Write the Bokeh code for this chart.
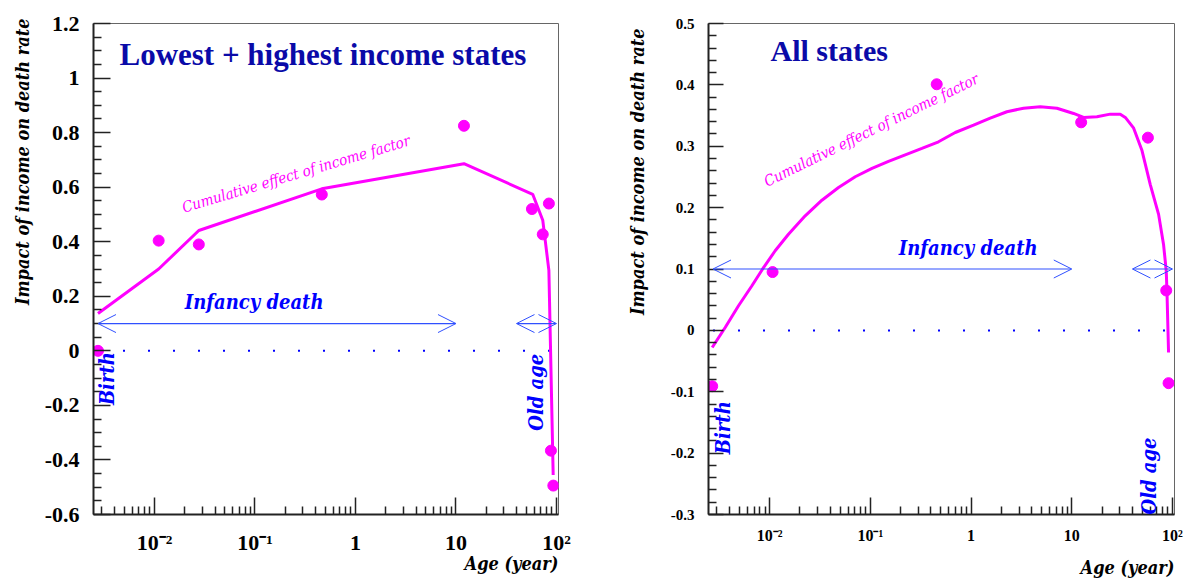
import math
from bokeh.plotting import figure
from bokeh.models import (Range1d, FixedTicker, CustomJSTickFormatter, Label,
                          Arrow, OpenHead, Title)
from bokeh.layouts import row
from bokeh.embed import file_html
from bokeh.resources import INLINE

FONT = "Liberation Serif"
ITALIC_FONT = "'DejaVu Serif Condensed', 'DejaVu Serif', serif"

# ---------------- data ----------------
birth_age = 1.0 / 365.0
x_lo, x_hi = 10 ** -2.607, 10 ** 2.02

# Left panel: lowest + highest income states
left_point_age = [birth_age, 0.011, 0.0276, 0.462, 12.0, 57.0, 73.0, 84.0, 88.0, 93.0]
left_point_val = [0.0, 0.404, 0.39, 0.573, 0.825, 0.52, 0.427, 0.54, -0.366, -0.494]
left_curve_age = [birth_age, 0.011, 0.0276, 0.462, 12.0, 58.0, 73.0, 84.0, 92.7]
left_curve_val = [0.137, 0.30, 0.441, 0.594, 0.686, 0.574, 0.479, 0.295, -0.455]

# Right panel: all states
right_point_age = [0.00269, 0.0107, 0.456, 12.4, 57.0, 86.7, 91.4]
right_point_val = [-0.091, 0.095, 0.401, 0.339, 0.314, 0.065, -0.086]
right_curve_age = [0.00269, 0.00362, 0.00491, 0.00667, 0.00849, 0.01135, 0.01538,
                   0.02254, 0.03304, 0.04831, 0.07079, 0.1038, 0.1514, 0.222,
                   0.3251, 0.4753, 0.6966, 1.059, 1.549, 2.27, 3.319, 4.864,
                   7.124, 10.42, 13.09, 17.78, 24.1, 30.29, 34.0, 41.0, 49.8,
                   60.1, 72.8, 81.5, 86.7, 88.1, 91.4]
right_curve_val = [-0.028, 0.0047, 0.0401, 0.0727, 0.0997, 0.1297, 0.1567,
                   0.1867, 0.2121, 0.2328, 0.2503, 0.2638, 0.2752, 0.2861,
                   0.2964, 0.3073, 0.3224, 0.3343, 0.3457, 0.3562, 0.362,
                   0.3643, 0.362, 0.3534, 0.3469, 0.348, 0.3523, 0.3523,
                   0.347, 0.330, 0.293, 0.238, 0.189, 0.140, 0.097, 0.065,
                   -0.036]

x_tick_values = [0.01, 0.1, 1, 10, 100]
x_tick_labels = ["10\u207b\u00b2", "10\u207b\u00b9", "1", "10", "10\u00b2"]
x_minor_ticks = [m * 10.0 ** e for e in range(-3, 3) for m in range(2, 10)
                 if x_lo <= m * 10.0 ** e <= x_hi]

left_y_ticks = [-0.6, -0.4, -0.2, 0.0, 0.2, 0.4, 0.6, 0.8, 1.0, 1.2]
right_y_ticks = [-0.3, -0.2, -0.1, 0.0, 0.1, 0.2, 0.3, 0.4, 0.5]

arrow_level = 0.1
infancy_span = [birth_age, 10.0]
old_age_span = [40.0, 100.0]
zero_line_age = [birth_age, 95.0]

titles = ["Lowest + highest income states", "All states"]
y_title = "Impact of income on death rate"
x_title = "Age (year)"
curve_note = "Cumulative effect of income factor"

MAGENTA = "#ff00ff"
BLUE = "#0000ff"
ARROW_BLUE = "#3050ff"
NAVY = "#0a0aa8"


def minor_list(ticks, n):
    out = []
    for a, b in zip(ticks[:-1], ticks[1:]):
        for k in range(1, n):
            out.append(round(a + (b - a) * k / n, 6))
    return out


def make_panel(cfg):
    p = figure(x_axis_type="log", output_backend="svg", toolbar_location=None,
               title=None,
               frame_width=cfg["fw"], frame_height=cfg["fh"],
               min_border_left=cfg["bl"], min_border_right=cfg["br"],
               min_border_top=cfg["bt"], min_border_bottom=cfg["bb"],
               x_range=Range1d(x_lo, x_hi), y_range=Range1d(*cfg["yr"]))
    p.grid.visible = False
    p.outline_line_color = "#666666"
    p.outline_line_width = 1
    p.background_fill_color = "white"
    p.border_fill_color = "white"

    xa = p.xaxis[0]
    xa.ticker = FixedTicker(ticks=x_tick_values, minor_ticks=x_minor_ticks)
    xa.major_label_overrides = {v: l for v, l in zip(x_tick_values, x_tick_labels)}
    ya = p.yaxis[0]
    ya.ticker = FixedTicker(ticks=cfg["yt"], minor_ticks=minor_list(cfg["yt"], cfg["ny"]))
    ya.formatter = CustomJSTickFormatter(code="return String(Number(tick.toFixed(3)));")
    for ax, fs, tin, so in ((xa, cfg["xfs"], cfg["xtin"], cfg["xso"]),
                            (ya, cfg["yfs"], cfg["ytin"], cfg["yso"])):
        ax.axis_line_color = "#222222"
        ax.axis_line_width = 2
        ax.major_tick_in = tin
        ax.major_tick_out = 0
        ax.minor_tick_in = 8
        ax.minor_tick_out = 0
        ax.major_tick_line_color = "#222222"
        ax.minor_tick_line_color = "#222222"
        ax.major_tick_line_width = 1.5
        ax.minor_tick_line_width = 1.5
        ax.major_label_text_font = FONT
        ax.major_label_text_font_style = "bold"
        ax.major_label_text_font_size = fs
        ax.major_label_text_color = "black"
        ax.major_label_standoff = so

    # zero line, arrows
    p.line(zero_line_age, [0, 0], line_color=BLUE, line_width=2, line_dash="2 23")
    for span in (infancy_span, old_age_span):
        p.add_layout(Arrow(start=OpenHead(size=18, line_color=ARROW_BLUE, line_width=1),
                           end=OpenHead(size=18, line_color=ARROW_BLUE, line_width=1),
                           x_start=span[0], y_start=arrow_level,
                           x_end=span[1], y_end=arrow_level,
                           line_color=ARROW_BLUE, line_width=1.2))

    p.line(cfg["cx"], cfg["cy"], line_color=MAGENTA, line_width=3)
    p.scatter(cfg["px"], cfg["py"], size=11, color=MAGENTA)

    def lab(text, x, y, size, style, color, font, align="left", angle=0.0):
        p.add_layout(Label(x=x, y=y, text=text,
                           text_font=font, text_font_size=size,
                           text_font_style=style, text_color=color,
                           text_align=align, text_baseline="middle",
                           angle=angle))

    lab(cfg["title"], cfg["tx"], cfg["ty"], cfg["tfs"], "bold", NAVY, FONT)
    lab(curve_note, cfg["nx"], cfg["ny_"], "15px", "italic", MAGENTA, ITALIC_FONT,
        angle=math.radians(cfg["nang"]))
    lab("Infancy death", cfg["ix"], cfg["iy"], "20px", "bold italic", BLUE,
        ITALIC_FONT, align="center")
    lab("Birth", cfg["bx"], cfg["by"], "20px", "bold italic", BLUE, ITALIC_FONT,
        angle=math.pi / 2)
    lab("Old age", cfg["ox"], cfg["oy"], "20px", "bold italic", BLUE, ITALIC_FONT,
        angle=math.pi / 2)

    p.add_layout(Title(text=y_title, align="right", text_font=ITALIC_FONT,
                       text_font_size="18px", text_font_style="bold italic",
                       text_color="black", standoff=cfg["yts"], offset=cfg["yto"]),
                 "left")
    p.add_layout(Title(text=x_title, align="right", text_font=ITALIC_FONT,
                       text_font_size="18px", text_font_style="bold italic",
                       text_color="black", standoff=cfg["xts"]),
                 "below")
    return p


left_cfg = dict(fw=465, fh=491, bl=93, br=42, bt=23, bb=68, yr=(-0.6, 1.2),
                yt=left_y_ticks, ny=4, xfs="22px", yfs="22px", xtin=17, ytin=17,
                xso=15, yso=14,
                cx=left_curve_age, cy=left_curve_val,
                px=left_point_age, py=left_point_val,
                title=titles[0], tx=0.00448, ty=1.085, tfs="31px",
                nx=0.019, ny_=0.524, nang=16.6,
                ix=0.098, iy=0.179,
                bx=0.0034, by=-0.199,
                ox=62.5, oy=-0.293,
                yts=17, yto=-5, xts=-14)

right_cfg = dict(fw=466, fh=491, bl=108, br=11, bt=23, bb=68, yr=(-0.3, 0.5),
                 yt=right_y_ticks, ny=5, xfs="16px", yfs="15px", xtin=17, ytin=15,
                 xso=12, yso=14,
                 cx=right_curve_age, cy=right_curve_val,
                 px=right_point_age, py=right_point_val,
                 title=titles[1], tx=0.0102, ty=0.456, tfs="30px",
                 nx=0.009, ny_=0.241, nang=26.2,
                 ix=0.936, iy=0.1345,
                 bx=0.00343, by=-0.2017,
                 ox=58.3, oy=-0.3,
                 yts=40, yto=5, xts=16)

p1 = make_panel(left_cfg)
p2 = make_panel(right_cfg)
layout = row(p1, p2)

open("out.html", "w").write(file_html(layout, INLINE))
